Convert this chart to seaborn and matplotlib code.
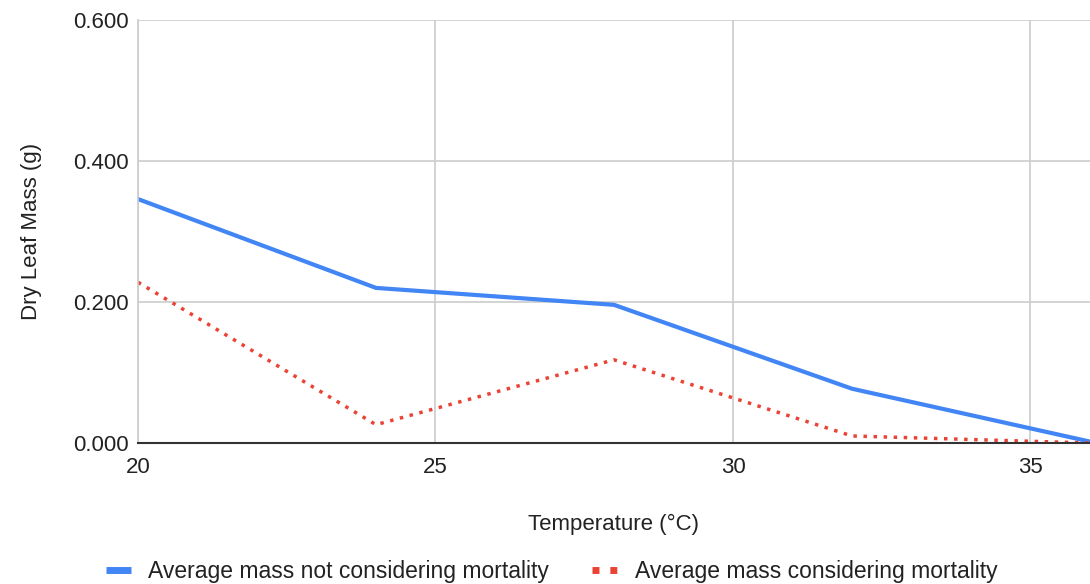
import matplotlib
matplotlib.use("Agg")
import matplotlib.pyplot as plt
import seaborn as sns
import pandas as pd
from matplotlib.lines import Line2D

temperature = [20, 24, 28, 32, 36]
mass_not_mortality = [0.346, 0.220, 0.196, 0.077, 0.002]
mass_mortality = [0.228, 0.026, 0.118, 0.010, 0.000]
series_names = ["Average mass not considering mortality", "Average mass considering mortality"]
x_ticks = [20, 25, 30, 35]
y_ticks = [0.0, 0.2, 0.4, 0.6]

sns.set_theme(style="white")
plt.rcParams['font.family'] = ['Liberation Sans', 'DejaVu Sans']

df = pd.DataFrame({
    "Temperature": temperature * 2,
    "Mass": mass_not_mortality + mass_mortality,
    "Series": [series_names[0]] * len(temperature) + [series_names[1]] * len(temperature),
})

fig = plt.figure(figsize=(10.9, 5.84), dpi=100)
ax = fig.add_axes([0.1266, 0.2414, 0.8734, 0.7244])

palette = {series_names[0]: "#4285F4", series_names[1]: "#EA4335"}
sns.lineplot(data=df, x="Temperature", y="Mass", hue="Series", style="Series",
             palette=palette, dashes={series_names[0]: "", series_names[1]: (1, 1.9)},
             linewidth=2.5, ax=ax, legend=False)
lines = ax.get_lines()
lines[0].set_linewidth(3)
for ln in lines:
    ln.set_dash_capstyle("butt")
    ln.set_solid_joinstyle("round")

ax.set_xlim(20, 36)
ax.set_ylim(0, 0.6)
ax.set_xticks(x_ticks)
ax.set_yticks(y_ticks)
ax.set_yticklabels([f"{v:.3f}" for v in y_ticks])
ax.grid(True, color="#cccccc", linewidth=1.2)
ax.set_axisbelow(True)
for s in ["top", "right"]:
    ax.spines[s].set_visible(False)
ax.spines["left"].set_color("#cccccc")
ax.spines["left"].set_linewidth(1.2)
ax.spines["bottom"].set_color("#333333")
ax.spines["bottom"].set_linewidth(1.5)
ax.tick_params(axis="both", length=0, labelsize=16, colors="#222222")
ax.tick_params(axis="y", pad=7)
ax.tick_params(axis="x", pad=10)
ax.set_xlabel("Temperature (°C)", fontsize=16, color="#222222", labelpad=26)
ax.set_ylabel("Dry Leaf Mass (g)", fontsize=16, color="#222222", labelpad=22)

handles = [
    Line2D([0], [0], color="#4285F4", linewidth=5, solid_capstyle="butt"),
    Line2D([0], [0], color="#EA4335", linewidth=5, linestyle=(0, (1, 1.57)), dash_capstyle="butt"),
]
fig.legend(handles, series_names, loc="center", bbox_to_anchor=(0.506, 0.021), ncol=2,
           frameon=False, fontsize=16.5, handlelength=1.1, handletextpad=0.75, columnspacing=1.9,
           labelcolor="#222222", borderpad=0)

fig.savefig("out.png", dpi=100)
